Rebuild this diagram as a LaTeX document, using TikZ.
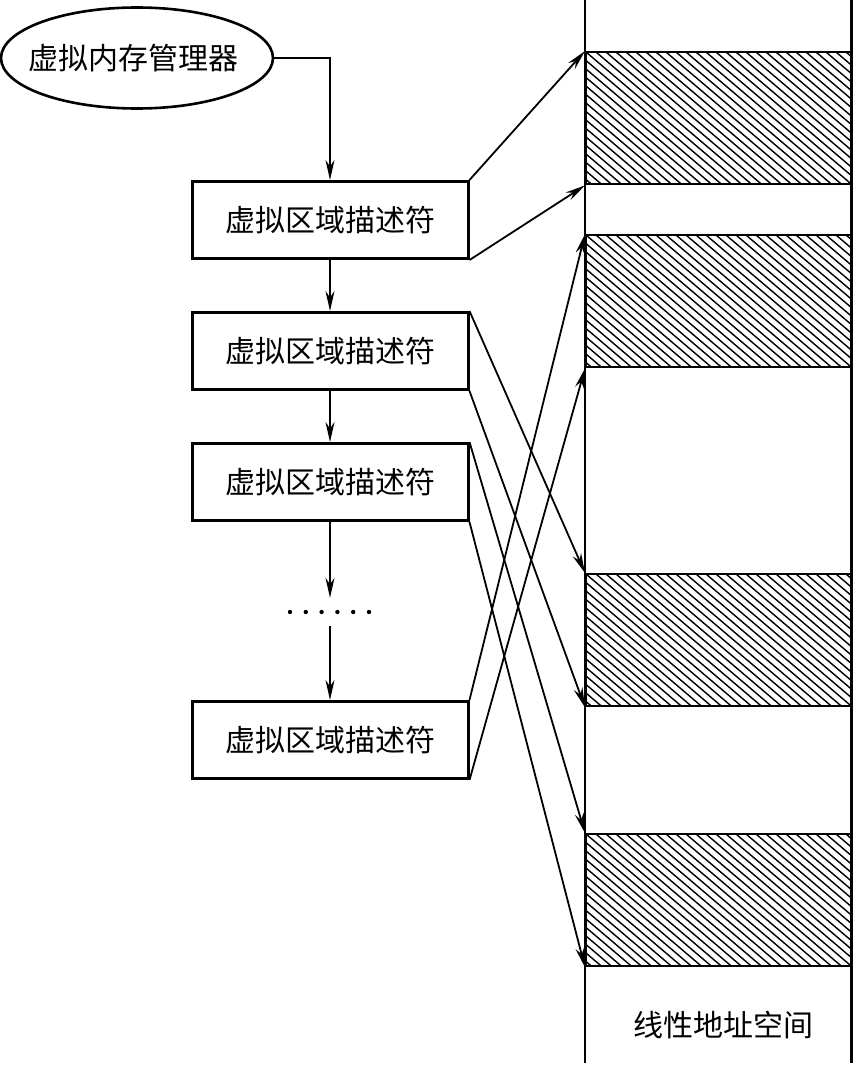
\documentclass[tikz,border=0pt]{standalone}
\usepackage{fontspec}
\newfontfamily\cjk{Noto Sans CJK SC}
\usepackage{tikz}
\usetikzlibrary{arrows.meta,positioning,shapes.geometric}
\tikzset{
  ar/.style={-{Stealth[length=20pt,width=9pt]},line width=1.8pt},
  txt/.style={font=\cjk\fontsize{30}{36}\selectfont},
  mgr/.style={ellipse,draw,line width=2.6pt,minimum width=272pt,minimum height=101pt,inner sep=0pt,txt},
  vbox/.style={draw,line width=3pt,minimum width=276pt,minimum height=77pt,inner sep=0pt,txt},
  band/.style={draw,line width=2.4pt,minimum width=266pt,minimum height=132pt,inner sep=0pt,anchor=north west,
    path picture={
      \foreach \k in {-170,-160,...,270}
        \draw[line width=1.4pt] ([xshift=\k pt]path picture bounding box.north west) -- ++(180pt,-153pt);
    }}
}
\begin{document}
\begin{tikzpicture}[x=1pt,y=-1pt]
\useasboundingbox (0,0) rectangle (855,1068);
% linear address space
\node[band] (b1) at (585,51) {};
\node[band] (b2) at (585,234) {};
\node[band] (b3) at (585,573) {};
\node[band] (b4) at (585,833) {};
\draw[line width=2.4pt] (585,0) -- (585,1063);
\draw[line width=3pt] (851.5,0) -- (851.5,1063);
\node[txt] (las) at (723,1025) {线性地址空间};
% manager and area descriptors
\node[mgr] (vmm) at (137,58) {\makebox[0pt]{\hspace{-8pt}虚拟内存管理器}};
\node[vbox] (vma1) at (330,220) {虚拟区域描述符};
\node[vbox] (vma2) at (330,351) {虚拟区域描述符};
\node[vbox] (vma3) at (330,482) {虚拟区域描述符};
\node[minimum width=80pt,minimum height=28pt,inner sep=0pt] (dots) at (330,612) {};
\foreach \i in {0,...,5}{\fill ({290+\i*15.8},612) circle (2.2pt);}
\node[vbox] (vma4) at (330,740) {虚拟区域描述符};
\draw[ar] (vmm.east) -| (vma1.north);
\draw[ar] (vma1) -- (vma2);
\draw[ar] (vma2) -- (vma3);
\draw[ar] (vma3) -- (dots.north);
\draw[ar] (dots.south) -- (vma4);
% descriptors to areas
\draw[ar] (vma1.north east) -- (b1.north west);
\draw[ar] (vma1.south east) -- (b1.south west);
\draw[ar] (vma2.north east) -- (b3.north west);
\draw[ar] (vma2.south east) -- (b3.south west);
\draw[ar] (vma3.north east) -- (b4.north west);
\draw[ar] (vma3.south east) -- (b4.south west);
\draw[ar] (vma4.north east) -- (b2.north west);
\draw[ar] (vma4.south east) -- (b2.south west);
\end{tikzpicture}
\end{document}
